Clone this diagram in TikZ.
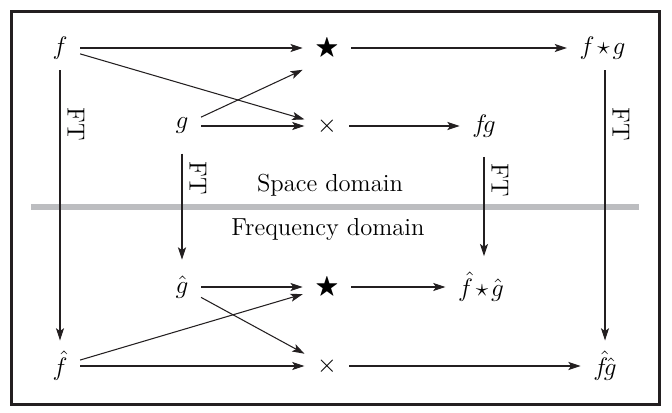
\documentclass[tikz,border=0pt]{standalone}
\usepackage{amsmath}
\usepackage{amssymb}
\usetikzlibrary{arrows.meta}
\definecolor{framecolor}{RGB}{35, 31, 32}
\definecolor{dividercolor}{RGB}{188, 189, 192}

\begin{document}
\begin{tikzpicture}[
    font=\fontsize{14}{17}\selectfont,
    term/.style={inner xsep=7pt, inner ysep=6pt},
    arrow/.style={-{Stealth[length=7pt, width=4.6pt, inset=1.6pt]}, line width=0.6pt, draw=framecolor},
    ft/.style={rotate=-90, anchor=south, inner sep=4pt}
]
\useasboundingbox (0,0) rectangle (13.44,-8.26);

% Frame and domain divider
\draw[framecolor, line width=1.4pt] (0.23,-0.23) rectangle (13.19,-8.09);
\draw[dividercolor, line width=3.4pt] (0.62,-4.14) -- (12.77,-4.14);
\node (space) at (6.6,-3.7) {Space domain};
\node (freq) at (6.56,-4.58) {Frequency domain};

% Space domain
\node[term] (f) at (1.2,-0.96) {$f$};
\node[term] (star1) at (6.54,-0.96) {$\bigstar$};
\node[term] (fsg) at (12.05,-0.96) {$f\mkern2mu{\star}\mkern2mu g$};
\node[term] (g) at (3.64,-2.52) {$g$};
\node[term] (times1) at (6.54,-2.52) {$\times$};
\node[term] (fg) at (9.68,-2.52) {$f\!g$};

% Frequency domain
\node[term] (ghat) at (3.64,-5.74) {$\hat{g}$};
\node[term] (star2) at (6.54,-5.74) {$\bigstar$};
\node[term] (fhsgh) at (9.62,-5.74) {$\hat{f}\mkern2mu{\star}\mkern2mu\hat{g}$};
\node[term] (fhat) at (1.2,-7.32) {$\hat{f}$};
\node[term] (times2) at (6.54,-7.32) {$\times$};
\node[term] (fhgh) at (12.1,-7.32) {$\hat{f}\!\hat{g}$};

% Operations
\draw[arrow] (f) -- (star1);
\draw[arrow] (star1) -- (fsg);
\draw[arrow] (f) -- (times1);
\draw[arrow] (g) -- (star1.south west);
\draw[arrow] (g) -- (times1);
\draw[arrow] (times1) -- (fg);
\draw[arrow] (ghat) -- (star2);
\draw[arrow] (star2) -- (fhsgh);
\draw[arrow] (ghat) -- (times2);
\draw[arrow] (fhat) -- (star2);
\draw[arrow] (fhat) -- (times2);
\draw[arrow] (times2) -- (fhgh);

% Fourier transforms
\draw[arrow] (f) -- (fhat) node[ft, pos=.2] {FT};
\draw[arrow] (fsg.south -| fhgh) -- (fhgh) node[ft, pos=.2] {FT};
\draw[arrow, shorten <=5pt, shorten >=3pt] (g) -- (ghat) node[ft, pos=.28] {FT};
\draw[arrow, shorten <=5pt, shorten >=3pt] (fg) -- (fg |- fhsgh.north) node[ft, pos=.28] {FT};

\end{tikzpicture}
\end{document}
